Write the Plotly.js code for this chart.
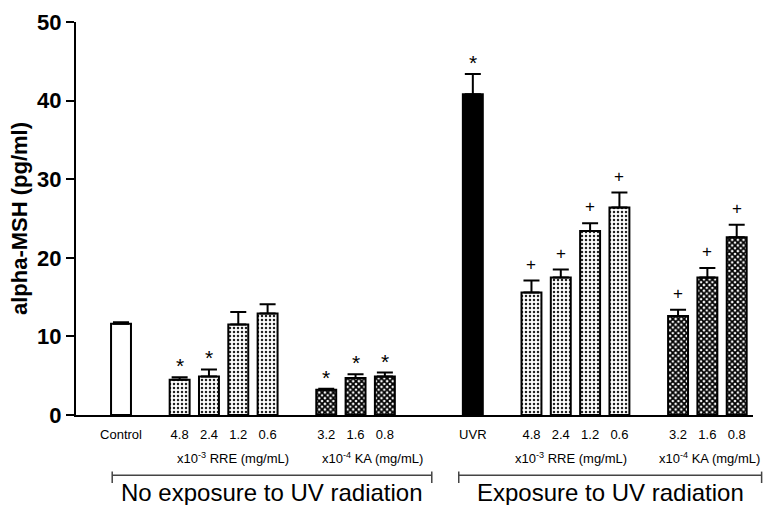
<!DOCTYPE html>
<html>
<head>
<meta charset="utf-8">
<script src="https://cdn.plot.ly/plotly-3.0.1.min.js"></script>
<style>html,body{margin:0;padding:0;background:#fff;}#chart{width:766px;height:505px;}</style>
</head>
<body>
<div id="chart"></div>
<script>
// ---- data ----
var rreDoses = ['4.8', '2.4', '1.2', '0.6'];
var kaDoses = ['3.2', '1.6', '0.8'];
var baseLabels = ['Control', 'UVR'];
var halfLabels = ['No exposure to UV radiation', 'Exposure to UV radiation'];
var rreUnit = 'x10<sup>-3</sup> RRE (mg/mL)';
var kaUnit = 'x10<sup>-4</sup> KA (mg/mL)';

var baseValues = [11.6, 40.8];
var baseErrors = [0.2, 2.6];
var baseMarks = ['', '*'];

var rreNoUV = [4.5, 4.9, 11.5, 12.9];
var rreNoUVErr = [0.3, 0.9, 1.6, 1.2];
var rreNoUVMarks = ['*', '*', '', ''];

var kaNoUV = [3.2, 4.7, 4.9];
var kaNoUVErr = [0.15, 0.5, 0.5];
var kaNoUVMarks = ['*', '*', '*'];

var rreUV = [15.6, 17.5, 23.4, 26.4];
var rreUVErr = [1.5, 1.0, 1.0, 1.9];
var rreUVMarks = ['+', '+', '+', '+'];

var kaUV = [12.6, 17.5, 22.6];
var kaUVErr = [0.8, 1.2, 1.6];
var kaUVMarks = ['+', '+', '+'];

// ---- layout of slots (gaps between groups) ----
var halfSize = 1 + 1 + rreDoses.length + 1 + kaDoses.length; // 10 slots
var halfGap = 2;
function halfStart(h) { return h * (halfSize + halfGap); }
function baseX(h) { return halfStart(h); }
function rreX(h) { return rreDoses.map(function (_, i) { return halfStart(h) + 2 + i; }); }
function kaX(h) { return kaDoses.map(function (_, i) { return halfStart(h) + 3 + rreDoses.length + i; }); }

var xr = [-1.535, 21.556];
function toPaper(s) { return (s - xr[0]) / (xr[1] - xr[0]); }

var font = 'Liberation Sans, Arial, sans-serif';
var zeros = function (a) { return a.map(function () { return 0; }); };
function errBar(arr) {
  return { type: 'data', array: arr, arrayminus: zeros(arr), symmetric: false,
           color: '#000', thickness: 2, width: 8 };
}
var line = { color: '#000', width: 2 };

var rrePattern = { shape: '.', fgcolor: '#222', bgcolor: '#fff', size: 4, solidity: 0.3 };
var kaPattern = { shape: 'x', fgcolor: '#000', bgcolor: '#fff', size: 4, solidity: 0.7 };

var traces = [
  { type: 'bar', x: [baseX(0)], y: [baseValues[0]], error_y: errBar([baseErrors[0]]),
    marker: { color: '#fff', line: line } },
  { type: 'bar', x: [baseX(1)], y: [baseValues[1]], error_y: errBar([baseErrors[1]]),
    marker: { color: '#000', line: line } },
  { type: 'bar', x: rreX(0), y: rreNoUV, error_y: errBar(rreNoUVErr),
    marker: { color: '#fff', line: line, pattern: rrePattern } },
  { type: 'bar', x: rreX(1), y: rreUV, error_y: errBar(rreUVErr),
    marker: { color: '#fff', line: line, pattern: rrePattern } },
  { type: 'bar', x: kaX(0), y: kaNoUV, error_y: errBar(kaNoUVErr),
    marker: { color: '#fff', line: line, pattern: kaPattern } },
  { type: 'bar', x: kaX(1), y: kaUV, error_y: errBar(kaUVErr),
    marker: { color: '#fff', line: line, pattern: kaPattern } }
];
traces.forEach(function (t) { t.width = 0.68; t.showlegend = false; t.hoverinfo = 'none'; });

// tick labels
var tickvals = [], ticktext = [];
[0, 1].forEach(function (h) {
  tickvals.push(baseX(h)); ticktext.push(baseLabels[h]);
  rreX(h).forEach(function (x, i) { tickvals.push(x); ticktext.push(rreDoses[i]); });
  kaX(h).forEach(function (x, i) { tickvals.push(x); ticktext.push(kaDoses[i]); });
});

var annotations = [];
function addMarks(xs, vals, errs, marks) {
  xs.forEach(function (x, i) {
    if (!marks[i]) return;
    var star = marks[i] === '*';
    annotations.push({ x: x, y: vals[i] + errs[i], xref: 'x', yref: 'y', text: marks[i],
      showarrow: false, xanchor: 'center', yanchor: 'bottom', yshift: star ? -2 : 5,
      font: { family: font, size: star ? 21 : 17, color: '#000' } });
  });
}
addMarks([baseX(0), baseX(1)], baseValues, baseErrors, baseMarks);
addMarks(rreX(0), rreNoUV, rreNoUVErr, rreNoUVMarks);
addMarks(kaX(0), kaNoUV, kaNoUVErr, kaNoUVMarks);
addMarks(rreX(1), rreUV, rreUVErr, rreUVMarks);
addMarks(kaX(1), kaUV, kaUVErr, kaUVMarks);

// unit subtitles
var unitShift = [[9, 17], [-4, 2]];
[0, 1].forEach(function (h) {
  var r = rreX(h), k = kaX(h);
  annotations.push({ x: (r[0] + r[r.length - 1]) / 2, y: -0.109, xref: 'x', yref: 'paper',
    text: rreUnit, showarrow: false, xanchor: 'center', yanchor: 'middle', xshift: unitShift[h][0],
    font: { family: font, size: 13, color: '#000' } });
  annotations.push({ x: (k[0] + k[k.length - 1]) / 2, y: -0.109, xref: 'x', yref: 'paper',
    text: kaUnit, showarrow: false, xanchor: 'center', yanchor: 'middle', xshift: unitShift[h][1],
    font: { family: font, size: 13, color: '#000' } });
});

// brackets
var shapes = [];
var bracketExt = [[-0.3, 10.6], [11.52, 21.85]];
var yb = -0.153, yt0 = -0.144, yt1 = -0.173;
[0, 1].forEach(function (h) {
  var a = toPaper(bracketExt[h][0]), b = toPaper(bracketExt[h][1]);
  var ln = { color: '#444', width: 1.5 };
  shapes.push({ type: 'line', xref: 'paper', yref: 'paper', x0: a, x1: b, y0: yb, y1: yb, line: ln });
  shapes.push({ type: 'line', xref: 'paper', yref: 'paper', x0: a, x1: a, y0: yt0, y1: yt1, line: ln });
  shapes.push({ type: 'line', xref: 'paper', yref: 'paper', x0: b, x1: b, y0: yt0, y1: yt1, line: ln });
  annotations.push({ x: (a + b) / 2, y: -0.197, xref: 'paper', yref: 'paper', text: halfLabels[h],
    showarrow: false, xanchor: 'center', yanchor: 'middle', font: { family: font, size: 24, color: '#000' } });
});

var layout = {
  width: 766, height: 505,
  margin: { l: 76, r: 13, t: 22, b: 90 },
  paper_bgcolor: '#fff', plot_bgcolor: '#fff',
  bargap: 0,
  xaxis: {
    range: xr, tickvals: tickvals, ticktext: ticktext,
    showgrid: false, zeroline: false, showline: true, linecolor: '#000', linewidth: 2,
    ticks: 'outside', ticklen: 6, tickcolor: 'rgba(0,0,0,0)',
    tickfont: { family: font, size: 13, color: '#000' }
  },
  yaxis: {
    range: [0, 50], tickvals: [0, 10, 20, 30, 40, 50],
    showgrid: false, zeroline: false, showline: true, linecolor: '#000', linewidth: 2,
    ticks: 'outside', ticklen: 8, tickwidth: 2, tickcolor: '#000',
    tickfont: { family: font, size: 22, color: '#000', weight: 'bold' },
    title: { text: 'alpha-MSH (pg/ml)', font: { family: font, size: 22, color: '#000', weight: 'bold' }, standoff: 3 }
  },
  annotations: annotations,
  shapes: shapes
};

Plotly.newPlot('chart', traces, layout, { displayModeBar: false, staticPlot: true });
</script>
</body>
</html>
